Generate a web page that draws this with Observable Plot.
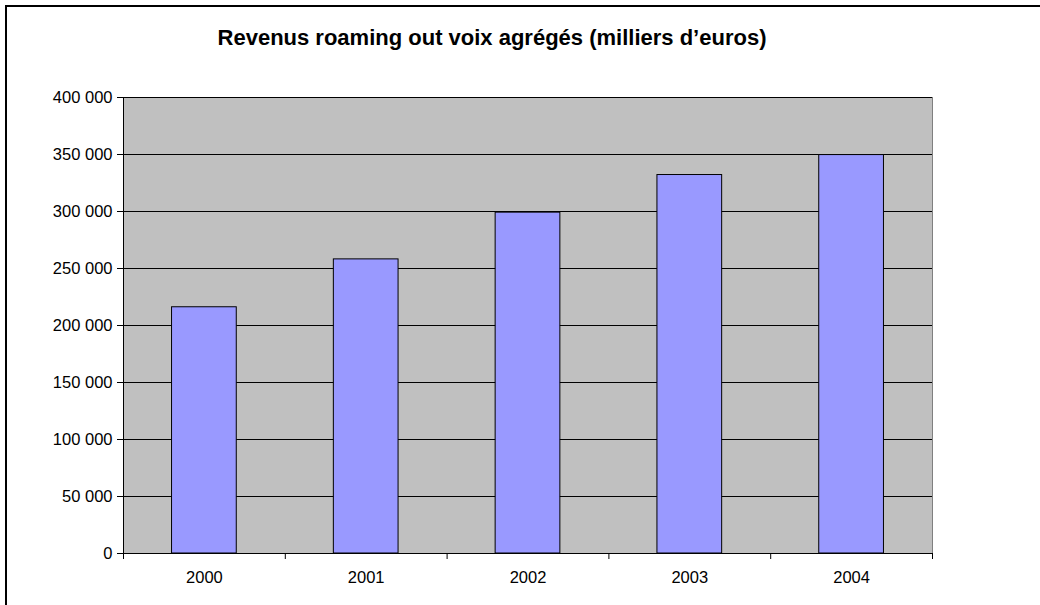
<!DOCTYPE html>
<html>
<head>
<meta charset="utf-8">
<script src="https://cdn.jsdelivr.net/npm/d3@7"></script>
<script src="https://cdn.jsdelivr.net/npm/@observablehq/plot@0.6"></script>
<style>
  html, body { margin: 0; padding: 0; background: #fff; }
  #chart { position: relative; width: 1040px; height: 605px; overflow: hidden; font-family: "Liberation Sans", Arial, sans-serif; }
  #frame { position: absolute; left: 5px; top: 5px; width: 1200px; height: 800px; border-left: 2px solid #000; border-top: 2px solid #000; }
  #title { position: absolute; left: 0; top: 28px; width: 984px; text-align: center; font-weight: bold; font-size: 22px; line-height: 20px; color: #000; }
  #plot { position: absolute; left: 0; top: 75px; }
</style>
</head>
<body>
<div id="chart">
  <div id="frame"></div>
  <div id="title">Revenus roaming out voix agrégés (milliers d’euros)</div>
  <div id="plot"></div>
</div>
<script>
// Aggregated roaming-out voice revenue, thousands of euros
const years = [2000, 2001, 2002, 2003, 2004];
const revenues = [216000, 258000, 299000, 332000, 349500];
const yTicks = [0, 50000, 100000, 150000, 200000, 250000, 300000, 350000, 400000];
// category boundaries where the x-axis tick marks sit
const yearBounds = [1999.5, 2000.5, 2001.5, 2002.5, 2003.5, 2004.5];

const data = years.map((year, i) => ({year, value: revenues[i]}));

// French-style grouping: 400 000
const fr = d3.formatLocale({decimal: ",", thousands: " ", grouping: [3], currency: ["", " €"]});
const fmt = fr.format(",d");

const chart = Plot.plot({
  width: 1040,
  height: 530,
  marginLeft: 123,
  marginRight: 108,
  marginTop: 22,
  marginBottom: 52,
  style: {fontFamily: "'Liberation Sans', Arial, sans-serif", fontSize: "16px", color: "#000", background: "transparent"},
  x: {domain: [yearBounds[0], yearBounds[yearBounds.length - 1]]},
  y: {domain: [0, 400000]},
  marks: [
    Plot.frame({fill: "#C0C0C0", stroke: "none"}),
    Plot.ruleY(yTicks.filter(v => v > 0), {stroke: "#000", strokeWidth: 1}),
    Plot.ruleX([yearBounds[yearBounds.length - 1]], {stroke: "#808080"}),
    Plot.rectY(data, {x1: d => d.year - 0.2, x2: d => d.year + 0.2, y: "value", fill: "#9999FF", stroke: "#000", strokeWidth: 1}),
    Plot.ruleY([0], {stroke: "#000"}),
    Plot.ruleX([yearBounds[0]], {stroke: "#000"}),
    Plot.axisY({ticks: yTicks, tickSize: 6, tickPadding: 5, tickFormat: fmt, label: null, fontSize: 16.5}),
    Plot.axisX({ticks: yearBounds, tickSize: 6, tickFormat: () => "", label: null}),
    Plot.axisX({ticks: years, tickSize: 0, tickPadding: 18, tickFormat: d => String(d), label: null, fontSize: 16.5})
  ]
});
document.getElementById("plot").appendChild(chart);
</script>
</body>
</html>
